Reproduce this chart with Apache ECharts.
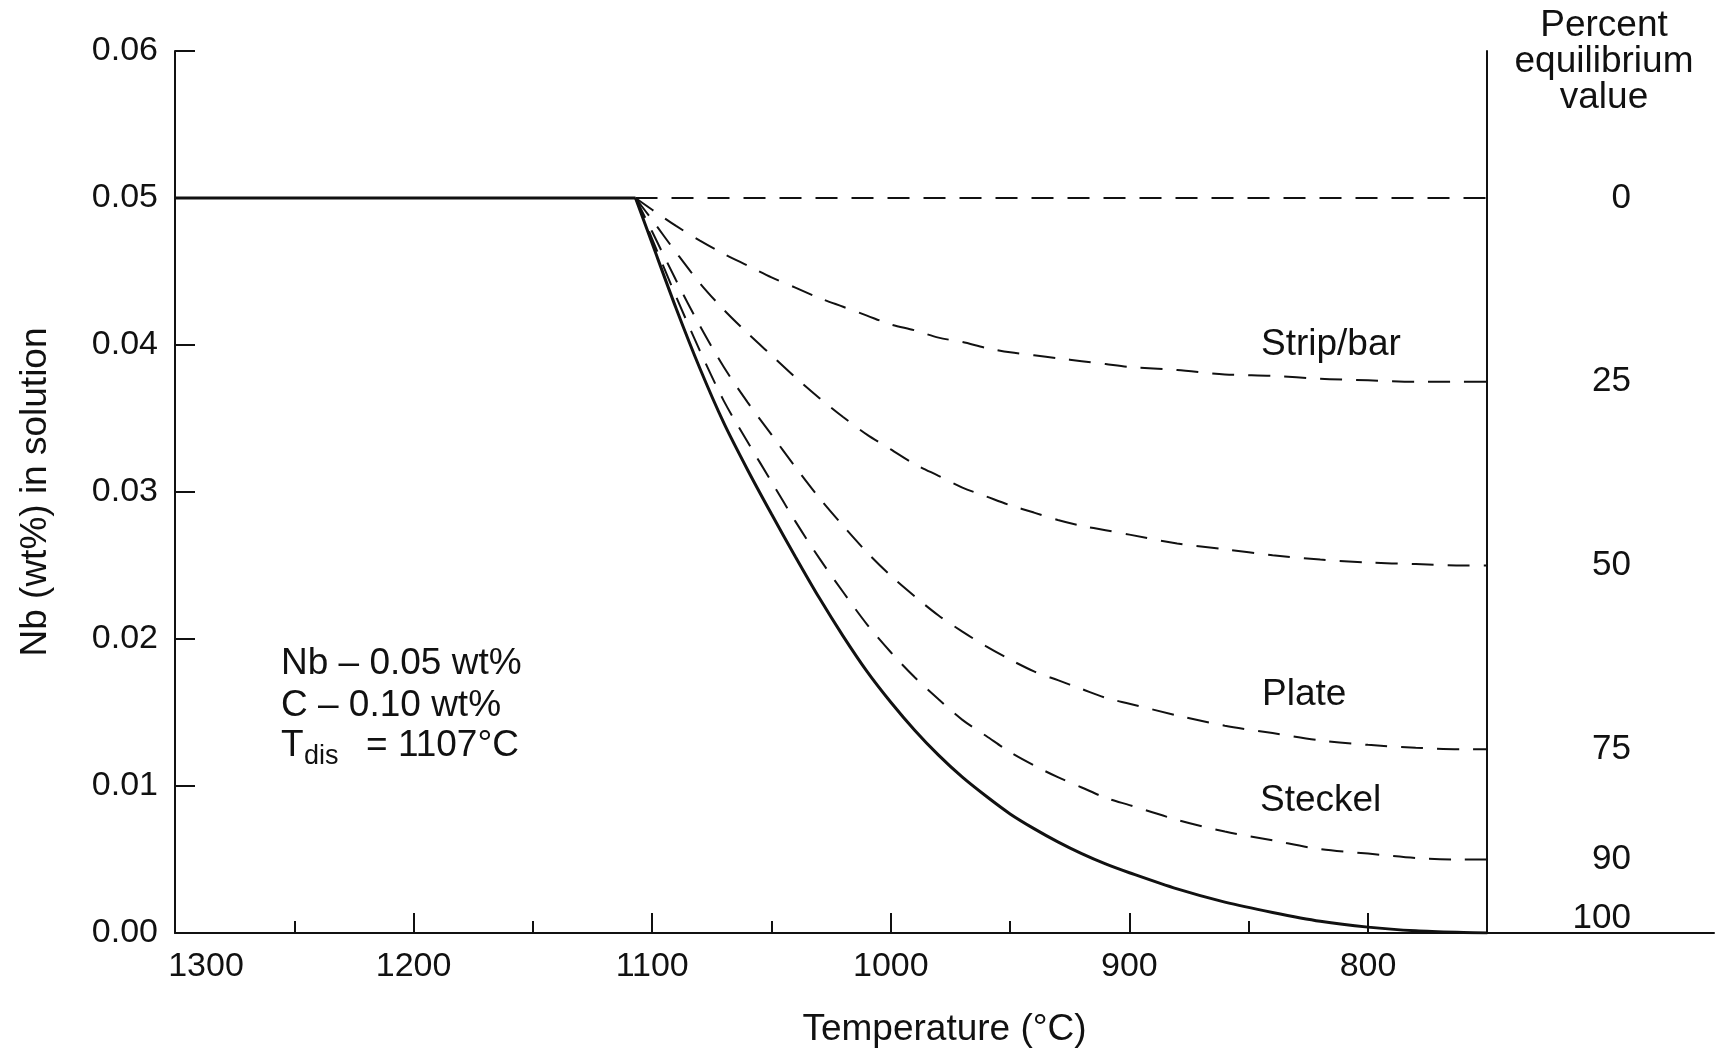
<!DOCTYPE html>
<html>
<head>
<meta charset="utf-8">
<script src="https://cdn.jsdelivr.net/npm/echarts@6/dist/echarts.min.js"></script>
<style>
  html, body { margin: 0; padding: 0; background: #fff; }
  #chart { width: 1717px; height: 1053px; }
</style>
</head>
<body>
<div id="chart"></div>
<script>
// temperatures (°C)
const temps = [1107, 1100, 1090, 1080, 1070, 1060, 1050, 1040, 1030, 1020, 1010, 1000, 990, 980, 970,
  960, 950, 940, 930, 920, 910, 900, 880, 860, 840, 820, 800, 780, 760, 750]

// Nb in solution, equilibrium (100 %) curve - solid line
const eqNb = [0.05, 0.0469, 0.0425, 0.0384, 0.0347, 0.0315, 0.0285, 0.0256, 0.0228, 0.0202, 0.0178, 0.0157, 0.0138, 0.0121, 0.0106,
  0.0093, 0.0081, 0.0071, 0.0062, 0.0054, 0.0047, 0.0041, 0.0030, 0.0021, 0.0014, 0.0008, 0.0004, 0.00015, 0.00003, 0.0]

// dashed curves, percent of equilibrium value reached
const nb25 = [0.05, 0.0492, 0.0481, 0.0471, 0.0462, 0.0454, 0.0446, 0.0439, 0.0432, 0.0426, 0.0420, 0.0414, 0.0410, 0.0405, 0.0402,
  0.0398, 0.0395, 0.0393, 0.0391, 0.0389, 0.0387, 0.0385, 0.0383, 0.0380, 0.0379, 0.0377, 0.0376, 0.0375, 0.0375, 0.0375]
const nb50 = [0.05, 0.0485, 0.0463, 0.0442, 0.0424, 0.0408, 0.0393, 0.0378, 0.0364, 0.0351, 0.0339, 0.0329, 0.0319, 0.0311, 0.0303,
  0.0297, 0.0291, 0.0286, 0.0281, 0.0277, 0.0274, 0.0271, 0.0265, 0.0261, 0.0257, 0.0254, 0.0252, 0.0251, 0.0250, 0.025]
const nb75 = [0.05, 0.0477, 0.0444, 0.0413, 0.0385, 0.0361, 0.0339, 0.0317, 0.0296, 0.0277, 0.0259, 0.0243, 0.0229, 0.0216, 0.0205,
  0.0195, 0.0186, 0.0178, 0.0172, 0.0166, 0.0160, 0.0156, 0.0148, 0.0141, 0.0136, 0.0131, 0.0128, 0.0126, 0.0125, 0.0125]
const nb90 = [0.05, 0.0472, 0.0433, 0.0396, 0.0362, 0.0334, 0.0307, 0.0280, 0.0255, 0.0232, 0.0210, 0.0191, 0.0174, 0.0159, 0.0145,
  0.0134, 0.0123, 0.0114, 0.0106, 0.0099, 0.0092, 0.0087, 0.0077, 0.0069, 0.0063, 0.0057, 0.0054, 0.0051, 0.0050, 0.005]

// flat parts: fully dissolved above Tdis, and 0 % line
const flatTemps = [1300, 1107]
const flatNb = [0.05, 0.05]
const zeroTemps = [1107, 750]
const zeroNb = [0.05, 0.05]

const majorTicks = [1300, 1200, 1100, 1000, 900, 800]
const minorTicks = [1250, 1150, 1050, 950, 850]
const percentTicks = [0, 25, 50, 75, 90, 100]

const FONT = '"Liberation Sans", Arial, Helvetica, sans-serif'
const INK = '#111'

const pairs = (xs, ys) => xs.map((x, i) => [x, ys[i]])

const dashed = (name, ys) => ({
  name: name,
  type: 'line',
  data: pairs(temps, ys),
  showSymbol: false,
  smooth: 0.3,
  lineStyle: { color: INK, width: 2, type: [22, 14] }
})

const chart = echarts.init(document.getElementById('chart'))

const option = {
  animation: false,
  backgroundColor: '#fff',
  grid: { left: 175, right: 3, top: 51, bottom: 118 },
  xAxis: [
    {
      type: 'value',
      inverse: true,
      min: 655,
      max: 1300,
      name: 'Temperature (°C)',
      nameLocation: 'middle',
      nameGap: 78,
      nameTextStyle: { fontFamily: FONT, fontSize: 37, color: INK },
      axisLine: { onZero: false, lineStyle: { color: INK, width: 2 } },
      axisTick: { inside: true, length: 20, customValues: majorTicks, lineStyle: { color: INK, width: 2 } },
      axisLabel: {
        customValues: majorTicks,
        margin: 17,
        fontFamily: FONT,
        fontSize: 34,
        color: INK,
        // 1300 sits right of the axis corner in the original
        formatter: v => (v === 1300 ? '{first|1300}' : String(v)),
        rich: { first: { fontFamily: FONT, fontSize: 34, color: INK, padding: [0, 0, 0, 62] } }
      },
      splitLine: { show: false }
    },
    {
      // second copy of the axis only for the short half-way ticks
      type: 'value',
      inverse: true,
      min: 655,
      max: 1300,
      position: 'bottom',
      offset: 0,
      axisLine: { show: false, onZero: false },
      axisTick: { inside: true, length: 12, customValues: minorTicks, lineStyle: { color: INK, width: 2 } },
      axisLabel: { show: false },
      splitLine: { show: false }
    }
  ],
  yAxis: [
    {
      type: 'value',
      min: 0,
      max: 0.06,
      interval: 0.01,
      name: 'Nb (wt%) in solution',
      nameLocation: 'middle',
      nameGap: 121,
      nameTextStyle: { fontFamily: FONT, fontSize: 37, color: INK },
      axisLine: { show: true, onZero: false, lineStyle: { color: INK, width: 2 } },
      axisTick: { inside: true, length: 20, lineStyle: { color: INK, width: 2 } },
      axisLabel: { margin: 17, fontFamily: FONT, fontSize: 34, color: INK, formatter: v => v.toFixed(2) },
      splitLine: { show: false }
    },
    {
      // percent of equilibrium value: 0 % = 0.05, 100 % = 0.00
      type: 'value',
      position: 'right',
      offset: -227,
      inverse: true,
      min: -20,
      max: 100,
      interval: 5,
      axisLine: { show: true, onZero: false, lineStyle: { color: INK, width: 2 } },
      axisTick: { show: false },
      axisLabel: {
        margin: 144,
        align: 'right',
        fontFamily: FONT,
        fontSize: 35,
        color: INK,
        formatter: v => {
          const p = Math.round(v)
          if (percentTicks.indexOf(p) < 0) return ''
          return p === 100 ? '{up|100}' : String(p)
        },
        rich: { up: { fontFamily: FONT, fontSize: 35, color: INK, padding: [0, 0, 30, 0] } }
      },
      splitLine: { show: false }
    }
  ],
  series: [
    {
      name: 'dissolved',
      type: 'line',
      data: pairs(flatTemps, flatNb),
      showSymbol: false,
      lineStyle: { color: INK, width: 3 }
    },
    {
      name: 'equilibrium',
      type: 'line',
      data: pairs(temps, eqNb),
      showSymbol: false,
      smooth: 0.3,
      lineStyle: { color: INK, width: 3 }
    },
    {
      name: '0 %',
      type: 'line',
      data: pairs(zeroTemps, zeroNb),
      showSymbol: false,
      lineStyle: { color: INK, width: 2, type: [22, 14] }
    },
    dashed('Strip/bar', nb25),
    dashed('50 %', nb50),
    dashed('Plate', nb75),
    dashed('Steckel', nb90)
  ],
  graphic: [
    { type: 'text', x: 281, y: 664, style: { text: 'Nb – 0.05 wt%', fontFamily: FONT, fontSize: 37, fill: INK, verticalAlign: 'middle' } },
    { type: 'text', x: 281, y: 706, style: { text: 'C – 0.10 wt%', fontFamily: FONT, fontSize: 37, fill: INK, verticalAlign: 'middle' } },
    { type: 'text', x: 281, y: 746, style: { text: 'T', fontFamily: FONT, fontSize: 37, fill: INK, verticalAlign: 'middle' } },
    { type: 'text', x: 304, y: 757, style: { text: 'dis', fontFamily: FONT, fontSize: 27, fill: INK, verticalAlign: 'middle' } },
    { type: 'text', x: 366, y: 746, style: { text: '= 1107°C', fontFamily: FONT, fontSize: 37, fill: INK, verticalAlign: 'middle' } },
    { type: 'text', x: 1261, y: 345, style: { text: 'Strip/bar', fontFamily: FONT, fontSize: 37, fill: INK, verticalAlign: 'middle' } },
    { type: 'text', x: 1262, y: 695, style: { text: 'Plate', fontFamily: FONT, fontSize: 37, fill: INK, verticalAlign: 'middle' } },
    { type: 'text', x: 1260, y: 801, style: { text: 'Steckel', fontFamily: FONT, fontSize: 37, fill: INK, verticalAlign: 'middle' } },
    {
      type: 'text',
      x: 1604,
      y: 62,
      style: {
        text: 'Percent\nequilibrium\nvalue',
        fontFamily: FONT,
        fontSize: 37,
        lineHeight: 36,
        fill: INK,
        align: 'center',
        verticalAlign: 'middle'
      }
    }
  ]
}

chart.setOption(option)
</script>
</body>
</html>
